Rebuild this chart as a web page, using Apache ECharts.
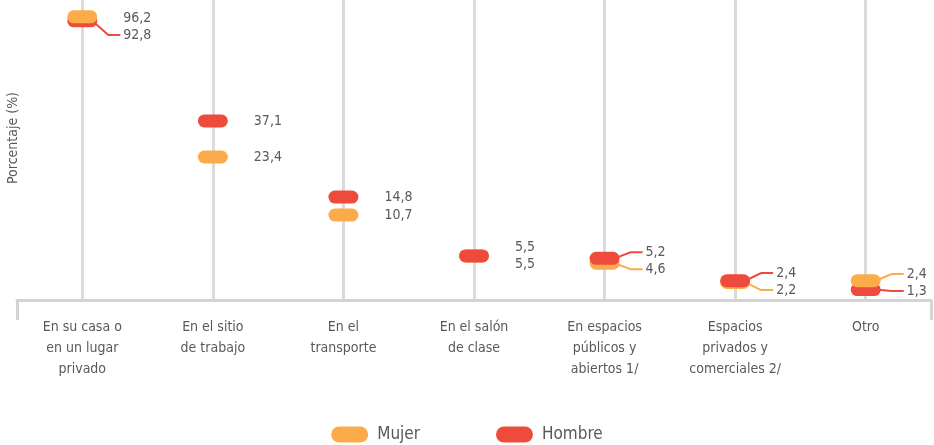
<!DOCTYPE html>
<html>
<head>
<meta charset="utf-8">
<script src="https://cdn.jsdelivr.net/npm/echarts@6/dist/echarts.min.js"></script>
<style>
  html, body { margin: 0; padding: 0; background: #fff; }
  #main { width: 934px; height: 445px; }
</style>
</head>
<body>
<div id="main"></div>
<script>
// datos (porcentaje)
var categories = [
    'En su casa o\nen un lugar\nprivado',
    'En el sitio\nde trabajo',
    'En el\ntransporte',
    'En el salón\nde clase',
    'En espacios\npúblicos y\nabiertos 1/',
    'Espacios\nprivados y\ncomerciales 2/',
    'Otro'
];
var mujer = [96.2, 23.4, 10.7, 5.5, 4.6, 2.2, 2.4];
var hombre = [92.8, 37.1, 14.8, 5.5, 5.2, 2.4, 1.3];

var FONT = '"Liberation Sans Narrow", "DejaVu Sans Condensed", "Roboto Condensed", sans-serif';
var GRAY = '#595959';
var COLORS = {Mujer: '#FBAB4A', Hombre: '#EF4B3D'};
var PILL = 'path://M6.5,0 L23.5,0 A6.5,6.5 0 0 1 23.5,13 L6.5,13 A6.5,6.5 0 0 1 6.5,0 Z';

function fmt(v) {
    return String(v).replace('.', ',');
}

// la serie con el valor mayor se dibuja encima
function isTop(name, i) {
    var a = name === 'Mujer' ? mujer[i] : hombre[i];
    var b = name === 'Mujer' ? hombre[i] : mujer[i];
    return a > b || (a === b && name === 'Hombre');
}

function makeSeries(name, values, onTop, lay) {
    var data = [];
    values.forEach(function (v, i) {
        if (isTop(name, i) !== onTop) return;
        var item = {value: [i, v]};
        if (lay) {
            item.label = {offset: [0, lay[name].dy[i]]};
        }
        data.push(item);
    });
    return {
        type: 'scatter',
        name: name,
        z: onTop ? 4 : 3,
        symbol: PILL,
        symbolSize: [30, 13],
        itemStyle: {color: COLORS[name], opacity: 1},
        label: {
            show: true,
            position: 'right',
            distance: 26,
            color: GRAY,
            fontSize: 14,
            fontFamily: FONT,
            formatter: function (p) { return fmt(p.value[1]); }
        },
        emphasis: {disabled: true},
        data: data
    };
}

// lineas guia entre el marcador y su etiqueta desplazada
function guideSeries(name, values, lay) {
    var data = [];
    values.forEach(function (v, i) {
        if (lay && lay[name].line[i]) data.push([i, v, lay[name].dy[i]]);
    });
    return {
        type: 'custom',
        name: 'guia ' + name,
        z: 2,
        silent: true,
        renderItem: function (params, api) {
            var p = api.coord([api.value(0), api.value(1)]);
            var ly = p[1] + api.value(2);
            return {
                type: 'polyline',
                shape: {points: [[p[0] + 10, p[1]], [p[0] + 26, ly], [p[0] + 38, ly]]},
                style: {stroke: COLORS[name], lineWidth: 2, fill: null}
            };
        },
        data: data
    };
}

function allSeries(lay) {
    return [
        guideSeries('Hombre', hombre, lay),
        guideSeries('Mujer', mujer, lay),
        makeSeries('Hombre', hombre, false, lay),
        makeSeries('Mujer', mujer, false, lay),
        makeSeries('Hombre', hombre, true, lay),
        makeSeries('Mujer', mujer, true, lay)
    ];
}

var chart = echarts.init(document.getElementById('main'));
chart.setOption({
    animation: false,
    grid: {left: 17, right: 3, top: 0, bottom: 145, containLabel: false},
    legend: {
        data: ['Mujer', 'Hombre'],
        bottom: 2,
        left: 'center',
        padding: 0,
        icon: PILL,
        itemWidth: 37,
        itemHeight: 16,
        itemGap: 76,
        textStyle: {color: GRAY, fontSize: 17, fontFamily: FONT, padding: [0, 0, 0, 4]}
    },
    xAxis: {
        type: 'category',
        data: categories,
        boundaryGap: true,
        axisLine: {show: true, lineStyle: {color: '#d4d4d4', width: 3}},
        axisTick: {
            show: true,
            length: 20,
            interval: function (i) { return i === 0; },
            lineStyle: {color: '#d4d4d4', width: 3}
        },
        splitLine: {
            show: true,
            interval: 0,
            alignWithLabel: true,
            lineStyle: {color: '#dadada', width: 3}
        },
        axisLabel: {
            interval: 0,
            margin: 17,
            color: GRAY,
            fontSize: 14,
            lineHeight: 21,
            fontFamily: FONT
        }
    },
    // eje no lineal del original: tramos comprimidos con cortes
    yAxis: {
        type: 'value',
        show: false,
        min: 0,
        max: 98.3,
        breaks: [
            {start: 6, end: 10, gap: 3.9},
            {start: 11, end: 14.5, gap: 1.65},
            {start: 15, end: 23, gap: 4.4},
            {start: 24, end: 37, gap: 3.8},
            {start: 38, end: 92, gap: 10.8},
            {start: 93, end: 96, gap: 0.1}
        ],
        breakArea: {show: false},
        splitLine: {show: false}
    },
    graphic: [{
        type: 'text',
        x: 13,
        y: 138,
        rotation: Math.PI / 2,
        style: {
            text: 'Porcentaje (%)',
            fill: GRAY,
            fontSize: 14,
            fontFamily: FONT,
            align: 'center',
            verticalAlign: 'middle',
            textAlign: 'center',
            textVerticalAlign: 'middle'
        }
    }],
    series: allSeries(null)
});

// separar etiquetas que se solapan
var MIN_SEP = 17, LABEL_TOP = 18, LABEL_BOTTOM = 291;
var lay = {Mujer: {dy: [], line: []}, Hombre: {dy: [], line: []}};
function py(i, v) {
    return chart.convertToPixel({xAxisIndex: 0, yAxisIndex: 0}, [i, v])[1];
}
categories.forEach(function (c, i) {
    var yM = py(i, mujer[i]);
    var yH = py(i, hombre[i]);
    var hUp = yH <= yM;
    var yUp = Math.min(yM, yH), yLo = Math.max(yM, yH);
    var sep = yLo - yUp;
    var labUp = yUp, labLo = yLo;
    if (sep < MIN_SEP) {
        var mid = (yUp + yLo) / 2;
        labUp = mid - MIN_SEP / 2;
        labLo = mid + MIN_SEP / 2;
        if (labUp < LABEL_TOP) { labLo += LABEL_TOP - labUp; labUp = LABEL_TOP; }
        if (labLo > LABEL_BOTTOM) { labUp -= labLo - LABEL_BOTTOM; labLo = LABEL_BOTTOM; }
    }
    var dUp = labUp - yUp, dLo = labLo - yLo;
    var spread = sep < MIN_SEP && mujer[i] !== hombre[i];
    var lineUp = spread && Math.abs(dUp) >= 3;
    var lineLo = spread;
    lay.Hombre.dy[i] = hUp ? dUp : dLo;
    lay.Mujer.dy[i] = hUp ? dLo : dUp;
    lay.Hombre.line[i] = hUp ? lineUp : lineLo;
    lay.Mujer.line[i] = hUp ? lineLo : lineUp;
});
chart.setOption({series: allSeries(lay)});
</script>
</body>
</html>
